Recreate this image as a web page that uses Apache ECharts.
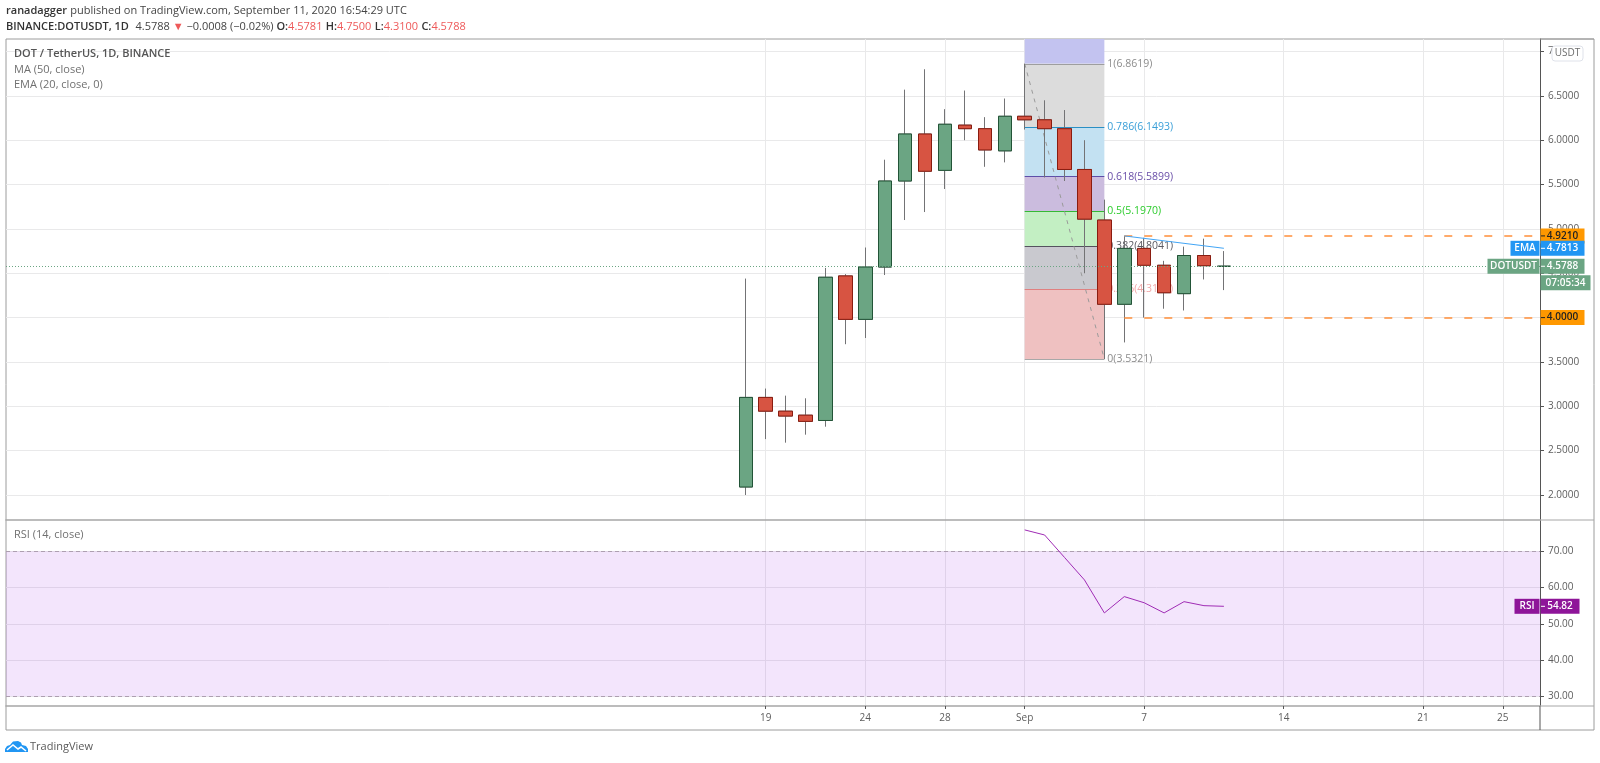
<!DOCTYPE html>
<html>
<head>
<meta charset="utf-8">
<style>html,body{margin:0;padding:0;background:#fff}#c{width:1600px;height:763px}</style>
<script src="https://cdn.jsdelivr.net/npm/echarts@6/dist/echarts.min.js"></script>
</head>
<body>
<div id="c"></div>
<script>
// Day number: Aug 18 = 18 ... Aug 31 = 31, Sep 1 = 32 ...
const days   = [18,19,20,21,22,23,24,25,26,27,28,29,30,31,32,33,34,35,36,37,38,39,40,41,42];
const opens  = [2.09,3.10,2.945,2.90,2.84,4.47,3.98,4.57,5.54,6.07,5.66,6.17,6.13,5.88,6.27,6.23,6.13,5.67,5.10,4.15,4.78,4.59,4.27,4.70,4.5781];
const closes = [3.10,2.945,2.89,2.83,4.455,3.98,4.57,5.54,6.07,5.65,6.18,6.13,5.89,6.27,6.23,6.13,5.67,5.11,4.15,4.78,4.59,4.28,4.70,4.585,4.5788];
const lows   = [2.00,2.63,2.59,2.68,2.77,3.70,3.77,4.48,5.10,5.19,5.45,6.00,5.70,5.75,6.12,5.58,5.54,4.50,3.5321,3.72,4.00,4.10,4.08,4.43,4.31];
const highs  = [4.44,3.20,3.12,3.09,4.56,4.49,4.79,5.78,6.57,6.80,6.35,6.56,6.26,6.47,6.8619,6.45,6.34,6.00,5.33,4.921,4.90,4.64,4.80,4.89,4.75];

const rsiDays   = [32,33,34,35,36,37,38,39,40,41,42];
const rsiValues = [75.9,74.5,68.3,62.1,53.0,57.5,55.8,53.0,56.1,55.0,54.82];

const fibRatios = ['1','0.786','0.618','0.5','0.382','0.236','0'];
const fibPrices = [6.8619,6.1493,5.5899,5.1970,4.8041,4.3179,3.5321];
const fibLineColors = ['#9e9e9e','#2a8fc4','#5e4ea8','#35b835','#55525f','#e08080','#a8a8a8'];
const fibTextColors = ['#8c8c8c','#3a9fd8','#6a4fa8','#2ecc2e','#5a5a62','#f0a8a8','#8c8c8c'];
const fibBandColors = ['#c3c3f0','#dcdcdc','#c3e1f2','#cbbcde','#c3efc3','#c9c9cf','#efc1c1'];

const priceTicks = [2,2.5,3,3.5,4,4.5,5,5.5,6,6.5,7];
const rsiTicks = [30,40,50,60,70];
const timeTickDays = [19,24,28,32,38,45,52,56];
const timeTickLabels = ['19','24','28','Sep','7','14','21','25'];

const resistance = 4.921, support = 4.0, lastPrice = 4.5788, emaPrice = 4.7813, rsiLast = 54.82;
const trendDays = [37,42], trendPrices = [4.921,4.7813];
const swingDays = [32,36], swingPrices = [6.8619,3.5321];

const xMin = -19.14, xMax = 57.87;
const priceMin = 1.718, priceMax = 7.141;
const rsiMin = 27.32, rsiMax = 78.63;

const FONT = '"Open Sans", sans-serif';
const GREEN = '#6ba583', RED = '#d75442', ORANGE = '#ff9800', BLUE = '#2196f3', PURPLE = '#8e1599';
const LBL = '#5d5d5d', GRID = '#e9e9ea';

const fullCandles = days.map((d,i)=>[d,opens[i],closes[i],lows[i],highs[i]]);
const bodyOnly = days.map((d,i)=>[d,opens[i],closes[i],Math.min(opens[i],closes[i]),Math.max(opens[i],closes[i])]);

function tag(value, w, side, text, bg, color, dy) {
  const off = side === 'right' ? w/2 + 0.5 : -(w/2 + 0.5);
  return {
    coord:[xMax, value], symbol:'rect', symbolSize:[w,15], symbolOffset:[off, dy||0],
    itemStyle:{color:bg, borderWidth:0},
    label:{show:true, position:'inside', formatter:text, color:color, fontFamily:FONT, fontSize:10, fontWeight:600}
  };
}
function tagTick(value, color) {
  return {
    coord:[xMax, value], symbol:'rect', symbolSize:[4,1], symbolOffset:[3, 0],
    itemStyle:{color:color, borderWidth:0}, label:{show:false}
  };
}

const fibAreas = fibPrices.map((p,i)=>[
  {xAxis:swingDays[0], yAxis:i===0?priceMax:fibPrices[i-1], itemStyle:{color:fibBandColors[i]}},
  {xAxis:swingDays[1], yAxis:p}
]);
const fibLines = fibPrices.map((p,i)=>[
  {coord:[swingDays[0],p], lineStyle:{color:fibLineColors[i],width:1,type:'solid'},
   label:{show:true,position:'end',distance:3,formatter:fibRatios[i]+'('+p.toFixed(4)+')',color:fibTextColors[i],fontFamily:FONT,fontSize:10.5}},
  {coord:[swingDays[1],p]}
]);

const option = {
  animation:false,
  backgroundColor:'#fff',
  grid:[
    {left:6, right:60, top:39, bottom:243, containLabel:false},
    {left:6, right:60, top:520, bottom:57, containLabel:false}
  ],
  xAxis:[
    {type:'value', gridIndex:0, min:xMin, max:xMax, position:'bottom',
     axisLine:{onZero:false, show:true, lineStyle:{color:'#a6a6a6',width:1.5}},
     axisTick:{show:false, customValues:timeTickDays},
     axisLabel:{show:false, customValues:timeTickDays},
     splitLine:{show:true, lineStyle:{color:GRID,width:1}}},
    {type:'value', gridIndex:1, min:xMin, max:xMax, position:'bottom',
     axisLine:{onZero:false, show:true, lineStyle:{color:'#a6a6a6',width:1.5}},
     axisTick:{show:true, length:3, customValues:timeTickDays, lineStyle:{color:'#555'}},
     axisLabel:{show:true, customValues:timeTickDays, margin:7, color:LBL, fontFamily:FONT, fontSize:10,
       formatter:v=>timeTickLabels[timeTickDays.indexOf(v)]},
     splitLine:{show:true, lineStyle:{color:GRID,width:1}}}
  ],
  yAxis:[
    {type:'value', gridIndex:0, min:priceMin, max:priceMax, position:'right', scale:true,
     axisLine:{onZero:false, show:true, lineStyle:{color:'#555',width:1}},
     axisTick:{show:true, length:4, customValues:priceTicks, lineStyle:{color:'#555'}},
     axisLabel:{show:true, customValues:priceTicks, margin:8, color:LBL, fontFamily:FONT, fontSize:10, formatter:v=>v.toFixed(4)},
     splitLine:{show:true, lineStyle:{color:GRID,width:1}}},
    {type:'value', gridIndex:1, min:rsiMin, max:rsiMax, position:'right', scale:true,
     axisLine:{onZero:false, show:true, lineStyle:{color:'#555',width:1}},
     axisTick:{show:true, length:4, customValues:rsiTicks, lineStyle:{color:'#555'}},
     axisLabel:{show:true, customValues:rsiTicks, margin:8, color:LBL, fontFamily:FONT, fontSize:10, formatter:v=>v.toFixed(2)},
     splitLine:{show:true, lineStyle:{color:GRID,width:1}}}
  ],
  series:[
    {type:'line', name:'Fib swing', xAxisIndex:0, yAxisIndex:0, z:1, silent:true,
     data:swingDays.map((d,i)=>[d,swingPrices[i]]), symbol:'none',
     lineStyle:{color:'#9a9a9a',width:1,type:[4,5]},
     markArea:{silent:true, z:1, data:fibAreas},
     markLine:{silent:true, z:1, symbol:'none', animation:false, data:fibLines}},
    {type:'candlestick', name:'Wicks', xAxisIndex:0, yAxisIndex:0, z:3, barWidth:14, silent:true,
     data:fullCandles, encode:{x:0,y:[1,2,3,4]},
     itemStyle:{color:GREEN,color0:RED,borderColor:'#737375',borderColor0:'#737375',borderColorDoji:'#8c8c8e',borderWidth:1}},
    {type:'candlestick', name:'DOTUSDT', xAxisIndex:0, yAxisIndex:0, z:4, barWidth:14, silent:true,
     data:bodyOnly, encode:{x:0,y:[1,2,3,4]},
     itemStyle:{color:GREEN,color0:RED,borderColor:'#225437',borderColor0:'#8a1c10',borderColorDoji:'#8c8c8e',borderWidth:1}},
    {type:'line', name:'Trend', xAxisIndex:0, yAxisIndex:0, z:5, silent:true,
     data:trendDays.map((d,i)=>[d,trendPrices[i]]), symbol:'none',
     lineStyle:{color:'#42a5f5',width:1},
     markLine:{silent:true, z:5, symbol:'none', animation:false, label:{show:false},
       data:[
         [{coord:[37,resistance],lineStyle:{color:'#ff8f3a',width:1.5,type:[8,12]}},{coord:[xMax,resistance]}],
         [{coord:[37,support],lineStyle:{color:'#ff8f3a',width:1.5,type:[8,12]}},{coord:[xMax,support]}],
         [{coord:[xMin,lastPrice],lineStyle:{color:GREEN,width:1,type:[1,2]}},{coord:[xMax,lastPrice]}]
       ]},
     markPoint:{silent:true, z:20, animation:false, data:[
       tag(resistance,44,'right','4.9210',ORANGE,'#222'),
       tag(emaPrice,44,'right','4.7813',BLUE,'#fff'),
       tag(emaPrice,29,'left','EMA',BLUE,'#fff'),
       tag(lastPrice,44,'right','4.5788',GREEN,'#fff'),
       tag(lastPrice,52,'left','DOTUSDT',GREEN,'#fff'),
       tag(lastPrice,50,'right','07:05:34',GREEN,'#fff',16.5),
       tag(support,44,'right','4.0000',ORANGE,'#222'),
       tagTick(resistance,'#222'),tagTick(emaPrice,'#fff'),tagTick(lastPrice,'#fff'),tagTick(support,'#222')
     ]}},
    {type:'line', name:'RSI', xAxisIndex:1, yAxisIndex:1, z:5, silent:true,
     data:rsiDays.map((d,i)=>[d,rsiValues[i]]), symbol:'none',
     lineStyle:{color:'#a02cb5',width:1},
     markArea:{silent:true, z:1, itemStyle:{color:'rgba(155,38,230,0.12)'},
       data:[[{xAxis:xMin,yAxis:70},{xAxis:xMax,yAxis:30}]]},
     markLine:{silent:true, z:2, symbol:'none', animation:false, label:{show:false},
       lineStyle:{color:'#ad9fb0',width:1,type:[4,3]},
       data:[{yAxis:70},{yAxis:30}]},
     markPoint:{silent:true, z:20, animation:false, data:[
       tag(rsiLast,39,'right','54.82',PURPLE,'#fff'),
       tag(rsiLast,25,'left','RSI',PURPLE,'#fff'),
       tagTick(rsiLast,'#fff')
     ]}}
  ],
  graphic:[
    {type:'rect', z:0, silent:true, shape:{x:6,y:39,width:1588,height:691}, style:{fill:'none',stroke:'#9c9c9c',lineWidth:1}},
    {type:'line', z:10, silent:true, shape:{x1:1540,y1:706,x2:1540,y2:730}, style:{stroke:'#555',lineWidth:1}},
    {type:'line', z:10, silent:true, shape:{x1:1540,y1:39,x2:1594,y2:39}, style:{stroke:'#9c9c9c',lineWidth:1}},
    {type:'line', z:10, silent:true, shape:{x1:1540,y1:520,x2:1594,y2:520}, style:{stroke:'#a6a6a6',lineWidth:1}},
    {type:'line', z:10, silent:true, shape:{x1:1540,y1:706,x2:1594,y2:706}, style:{stroke:'#a6a6a6',lineWidth:1}},
    {type:'rect', z:100, silent:true, shape:{x:1552,y:46,width:31,height:15,r:3}, style:{fill:'#fff',stroke:'#dfe2ea',lineWidth:1}},
    {type:'text', z:101, silent:true, x:1567.5, y:53.5, style:{text:'USDT',fill:'#6e6e6e',font:'10px '+FONT,textAlign:'center',textVerticalAlign:'middle'}},
    {type:'text', z:50, silent:true, x:6, y:11, style:{
      text:'{b|ranadagger} {n|published on TradingView.com, September 11, 2020 16:54:29 UTC}',
      textVerticalAlign:'middle',
      rich:{b:{font:'600 11px '+FONT,fill:'#333'},n:{font:'11px '+FONT,fill:'#444'}}}},
    {type:'text', z:50, silent:true, x:6, y:27, style:{
      text:'{b|BINANCE:DOTUSDT, 1D}  {n|4.5788 }{r|▼}{n| −0.0008 (−0.02%) }{b|O:}{r|4.5781} {b|H:}{r|4.7500} {b|L:}{r|4.3100} {b|C:}{r|4.5788}',
      textVerticalAlign:'middle',
      rich:{b:{font:'600 11px '+FONT,fill:'#333'},n:{font:'11px '+FONT,fill:'#444'},r:{font:'11px '+FONT,fill:'#ee5a5a'}}}},
    {type:'text', z:50, silent:true, x:14, y:54, style:{text:'DOT / TetherUS, 1D, BINANCE',fill:'#555',font:'600 11px '+FONT,textVerticalAlign:'middle'}},
    {type:'text', z:50, silent:true, x:14, y:69.5, style:{text:'MA (50, close)',fill:'#707070',font:'11px '+FONT,textVerticalAlign:'middle'}},
    {type:'text', z:50, silent:true, x:14, y:85, style:{text:'EMA (20, close, 0)',fill:'#707070',font:'11px '+FONT,textVerticalAlign:'middle'}},
    {type:'text', z:50, silent:true, x:14, y:535, style:{text:'RSI (14, close)',fill:'#707070',font:'11px '+FONT,textVerticalAlign:'middle'}},
    {type:'polygon', z:50, silent:true, shape:{points:[[5,752],[5,749],[7,746],[10,745],[13,741.5],[18,741],[21,742.5],[22,745],[26,746],[28,749],[28,752]]}, style:{fill:BLUE}},
    {type:'polyline', z:51, silent:true, shape:{points:[[7,750],[13,745],[18,749],[21,747],[26,751]]}, style:{stroke:'#fff',fill:'none',lineWidth:1.6}},
    {type:'text', z:50, silent:true, x:30, y:746.5, style:{text:'TradingView',fill:'#5a5a5a',font:'11px '+FONT,textVerticalAlign:'middle'}}
  ]
};
const chart = echarts.init(document.getElementById('c'), null, {renderer:'canvas'});
chart.setOption(option);
</script>
</body>
</html>
